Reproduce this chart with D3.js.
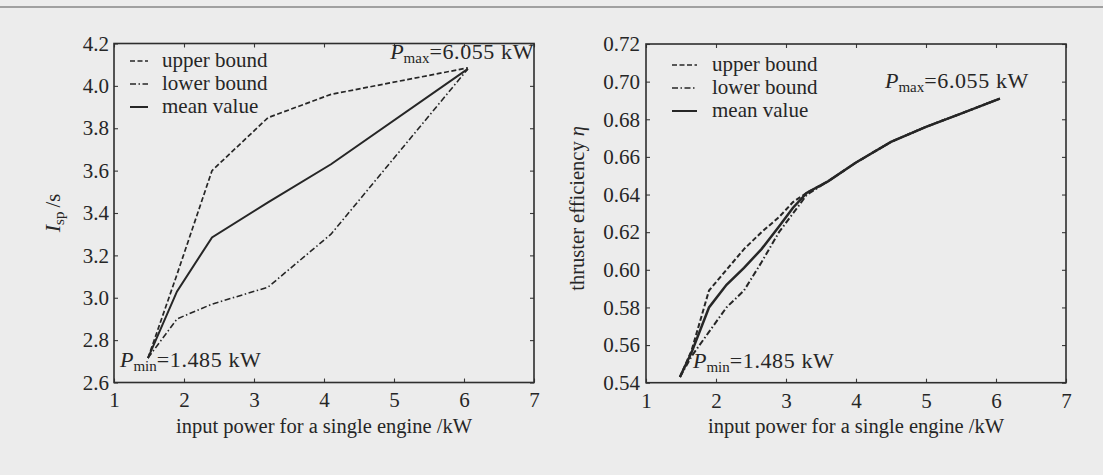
<!DOCTYPE html>
<html>
<head>
<meta charset="utf-8">
<script src="https://cdn.jsdelivr.net/npm/d3@7"></script>
<style>
  body { margin: 0; background: #ececec; }
  svg { display: block; }
  text { font-family: "Liberation Serif", "Times New Roman", serif; fill: #262626; }
</style>
</head>
<body>
<svg id="chart"></svg>
<script>
// left panel: specific impulse vs input power
const powerL = [1.485, 1.9, 2.4, 3.2, 4.1, 6.055]
const ispUpper = [2.715, 3.11, 3.60, 3.85, 3.96, 4.085]
const ispMean = [2.715, 3.03, 3.285, 3.45, 3.63, 4.08]
const ispLower = [2.715, 2.90, 2.97, 3.05, 3.30, 4.08]
const ispTicks = [2.6, 2.8, 3.0, 3.2, 3.4, 3.6, 3.8, 4.0, 4.2]

// right panel: thruster efficiency vs input power
const powerR = [1.485, 1.65, 1.9, 2.15, 2.4, 2.65, 2.9, 3.1, 3.3, 3.6, 4.0, 4.5, 5.0, 5.5, 6.055]
const effUpper = [0.543, 0.557, 0.589, 0.600, 0.611, 0.620, 0.628, 0.636, 0.641, 0.647, 0.657, 0.668, 0.676, 0.683, 0.691]
const effMean = [0.543, 0.556, 0.580, 0.592, 0.601, 0.611, 0.623, 0.633, 0.641, 0.647, 0.657, 0.668, 0.676, 0.683, 0.691]
const effLower = [0.543, 0.554, 0.567, 0.580, 0.589, 0.604, 0.620, 0.630, 0.640, 0.647, 0.657, 0.668, 0.676, 0.683, 0.691]
const effTicks = [0.54, 0.56, 0.58, 0.60, 0.62, 0.64, 0.66, 0.68, 0.70, 0.72]

const powerTicks = [1, 2, 3, 4, 5, 6, 7]
const seriesNames = ["upper bound", "lower bound", "mean value"]
const pMax = "6.055"
const pMin = "1.485"

const W = 1103, H = 475
const FONT = '"Liberation Serif", "Times New Roman", serif'
const svg = d3.select("#chart").attr("width", W).attr("height", H)

// thin rule across the top of the scan
svg.append("line")
    .attr("x1", 0).attr("x2", W).attr("y1", 7).attr("y2", 7)
    .attr("stroke", "#555").attr("stroke-width", 1.2)

const dashes = ["5,2.5", "6,2.5,1.5,2.5", null]

function drawPanel(cfg) {
    const g = svg.append("g").attr("transform", `translate(${cfg.left},${cfg.top})`)
    const w = cfg.width, h = cfg.height

    const x = d3.scaleLinear().domain([1, 7]).range([0, w])
    const y = d3.scaleLinear().domain(d3.extent(cfg.yTicks)).range([h, 0])

    // axes, ticks pointing inward on all four sides
    const bottom = g.append("g").attr("transform", `translate(0,${h})`)
        .call(d3.axisBottom(x).tickValues(powerTicks).tickFormat(d3.format("d"))
            .tickSizeInner(-4).tickSizeOuter(0).tickPadding(10))
    const left = g.append("g")
        .call(d3.axisLeft(y).tickValues(cfg.yTicks).tickFormat(d3.format(cfg.fmt))
            .tickSizeInner(-4).tickSizeOuter(0).tickPadding(cfg.pad))
    g.append("g")
        .call(d3.axisTop(x).tickValues(powerTicks).tickFormat("").tickSizeInner(-4).tickSizeOuter(0))
    g.append("g").attr("transform", `translate(${w},0)`)
        .call(d3.axisRight(y).tickValues(cfg.yTicks).tickFormat("").tickSizeInner(-4).tickSizeOuter(0))

    g.selectAll(".domain").remove()
    g.selectAll(".tick line").attr("stroke", "#3a3a3a").attr("stroke-width", 1.1)
    ;[bottom, left].forEach(a => {
        a.attr("font-family", FONT).attr("font-size", 21)
        a.selectAll("text").attr("fill", "#262626")
    })

    g.append("rect")
        .attr("width", w).attr("height", h)
        .attr("fill", "none").attr("stroke", "#2e2e2e").attr("stroke-width", 1.6)

    // curves
    const line = d3.line().x(d => x(d[0])).y(d => y(d[1]))
    cfg.series.forEach((vals, i) => {
        g.append("path")
            .datum(cfg.xs.map((p, j) => [p, vals[j]]))
            .attr("d", line)
            .attr("fill", "none")
            .attr("stroke", "#262626")
            .attr("stroke-width", cfg.widths[i])
            .attr("stroke-dasharray", dashes[i])
    })

    // legend
    const lg = g.append("g").attr("transform", `translate(${cfg.legend.x},${cfg.legend.y})`)
    seriesNames.forEach((name, i) => {
        const row = lg.append("g").attr("transform", `translate(0,${i * cfg.legend.step})`)
        row.append("line")
            .attr("x1", 0).attr("x2", cfg.legend.len)
            .attr("stroke", "#262626").attr("stroke-width", i === 2 ? 2 : 1.7)
            .attr("stroke-dasharray", dashes[i])
        row.append("text")
            .attr("x", cfg.legend.textX).attr("y", 6)
            .attr("font-size", 21)
            .text(name)
    })

    // P_max / P_min notes
    const note = (px, py, sub, val, anchor) => {
        const t = g.append("text")
            .attr("x", px).attr("y", py)
            .attr("font-size", 22)
            .attr("text-anchor", anchor)
        t.append("tspan").attr("font-style", "italic").text("P")
        t.append("tspan").attr("font-size", 15).attr("dy", 4).text(sub)
        t.append("tspan").attr("dy", -4).attr("letter-spacing", 0.6).text("=" + val + " kW")
    }
    note(cfg.maxNote[0], cfg.maxNote[1], "max", pMax, cfg.maxNote[2])
    note(cfg.minNote[0], cfg.minNote[1], "min", pMin, "start")

    // axis titles
    g.append("text")
        .attr("x", x(4)).attr("y", h + 50)
        .attr("text-anchor", "middle")
        .attr("font-size", 20.5)
        .text("input power for a single engine /kW")

    const yl = g.append("text")
        .attr("transform", `translate(${cfg.yLabel.x},${h / 2 + cfg.yLabel.dy}) rotate(-90)`)
        .attr("text-anchor", "middle")
        .attr("font-size", 20.5)
    cfg.yLabel.build(yl)
}

drawPanel({
    left: 114, top: 43.5, width: 420, height: 339,
    yTicks: ispTicks, fmt: ".1f", pad: 5,
    xs: powerL, series: [ispUpper, ispLower, ispMean], widths: [1.7, 1.6, 2],
    legend: { x: 16, y: 17.5, step: 23, len: 18, textX: 32 },
    maxNote: [420, 15, "end"],
    minNote: [6, 323],
    yLabel: {
        x: -54, dy: 0,
        build: t => {
            t.append("tspan").attr("font-style", "italic").attr("font-size", 22).text("I")
            t.append("tspan").attr("font-size", 15).attr("dy", 4).text("sp")
            t.append("tspan").attr("dy", -4).text("\u2009/s")
        }
    }
})

drawPanel({
    left: 646, top: 44, width: 420, height: 338.7,
    yTicks: effTicks, fmt: ".2f", pad: 6,
    xs: powerR, series: [effUpper, effLower, effMean], widths: [2, 2, 2.5],
    legend: { x: 26, y: 21, step: 23, len: 25, textX: 40 },
    maxNote: [239, 44, "start"],
    minNote: [47, 324],
    yLabel: {
        x: -62, dy: -5,
        build: t => {
            t.append("tspan").text("thruster efficiency ")
            t.append("tspan").attr("font-style", "italic").text("\u03b7")
        }
    }
})
</script>
</body>
</html>
